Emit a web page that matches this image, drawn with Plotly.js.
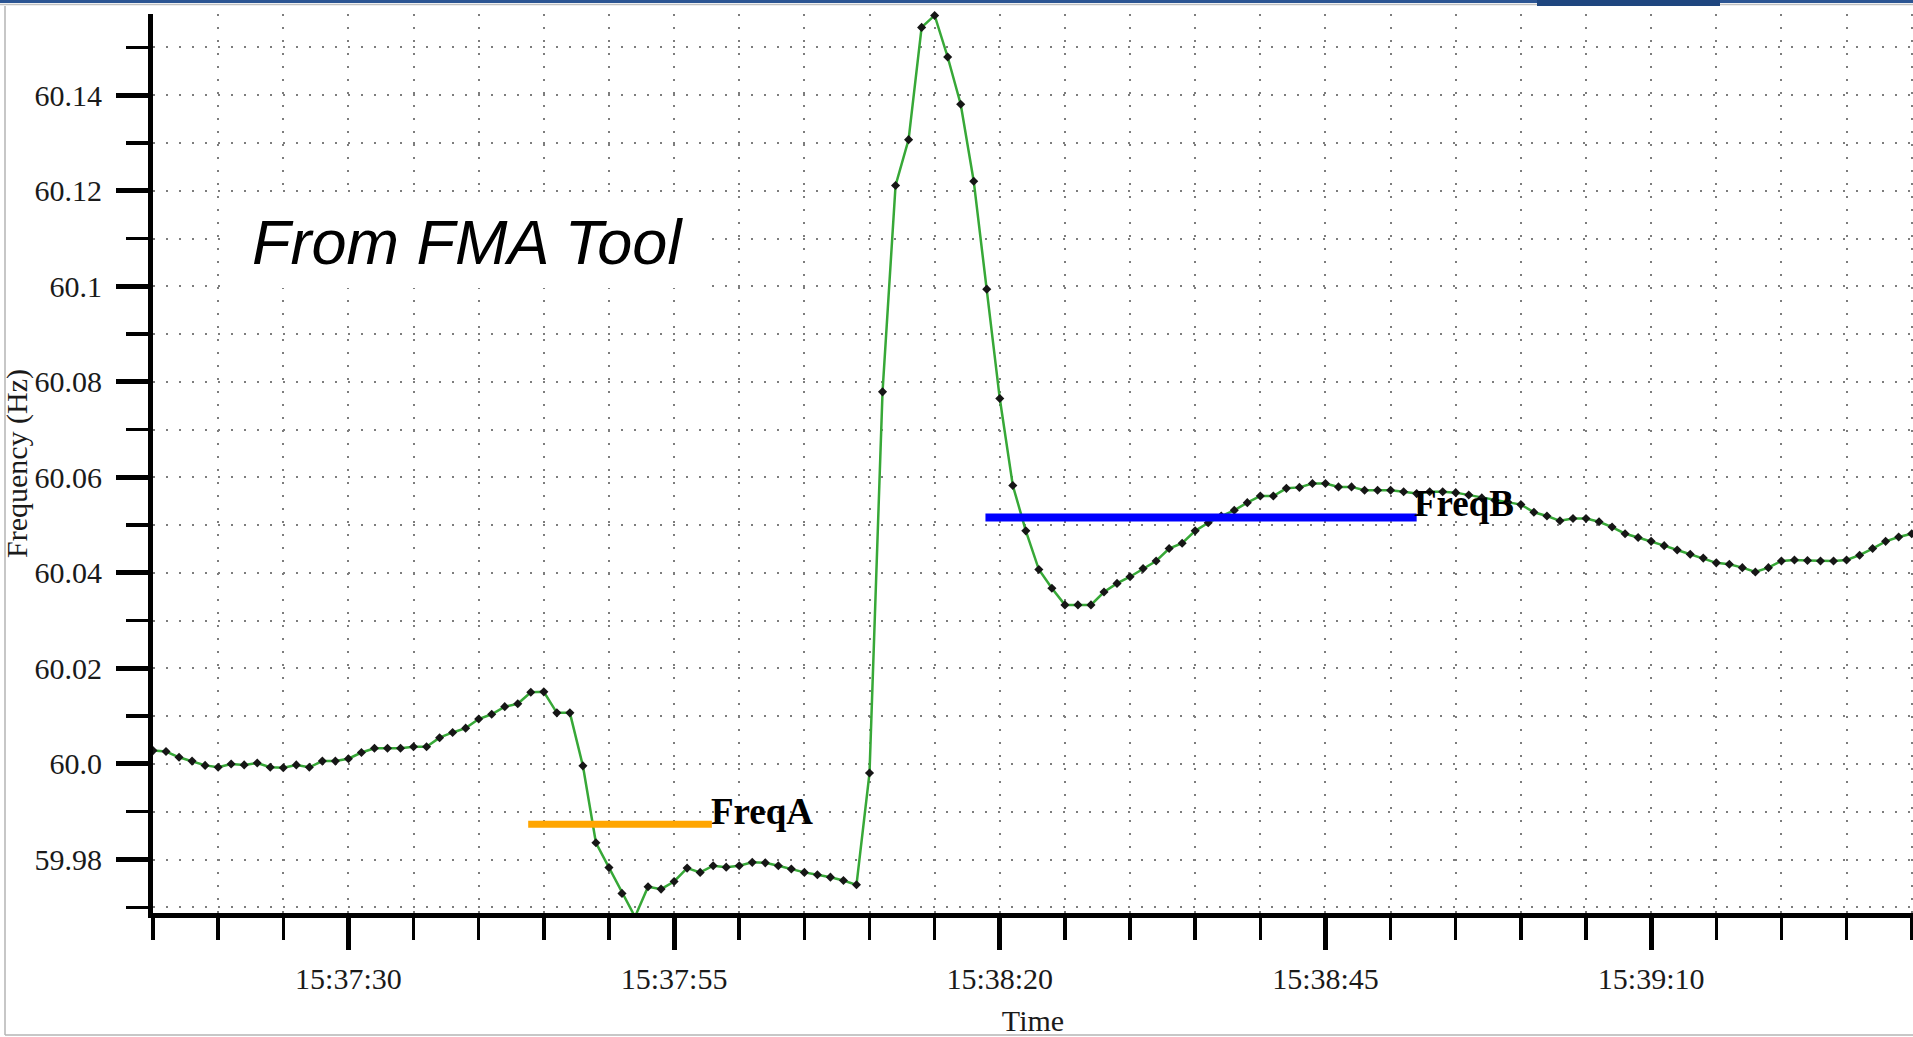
<!DOCTYPE html>
<html>
<head>
<meta charset="utf-8">
<script src="https://cdn.plot.ly/plotly-3.0.1.min.js"></script>
<style>
  html, body { margin: 0; padding: 0; background: #ffffff; overflow: hidden; }
  #chart { width: 1913px; height: 1037px; }
</style>
</head>
<body>
<div id="chart"></div>
<script>
// ---------------- data ----------------
const day = '2016-01-01 ';
const startTime = '15:37:15';      // time of first sample
const sampleSeconds = 1;           // one sample per second
const frequency = [
  60.0028, 60.0026, 60.0014, 60.0006, 59.9997, 59.9993, 60.0000, 59.9998, 60.0002, 59.9993,
  59.9992, 59.9998, 59.9993, 60.0006, 60.0006, 60.0011, 60.0024, 60.0033, 60.0033, 60.0033,
  60.0036, 60.0036, 60.0055, 60.0066, 60.0075, 60.0094, 60.0104, 60.0120, 60.0126, 60.0150,
  60.0151, 60.0107, 60.0107, 59.9996, 59.9835, 59.9783, 59.9729, 59.9680, 59.9743, 59.9738,
  59.9754, 59.9782, 59.9773, 59.9787, 59.9784, 59.9787, 59.9794, 59.9793, 59.9787, 59.9780,
  59.9773, 59.9768, 59.9763, 59.9756, 59.9747, 59.9981, 60.0779, 60.1211, 60.1307, 60.1542,
  60.1567, 60.1480, 60.1381, 60.1220, 60.0994, 60.0765, 60.0583, 60.0488, 60.0407, 60.0368,
  60.0333, 60.0333, 60.0333, 60.0360, 60.0378, 60.0392, 60.0409, 60.0425, 60.0451, 60.0462,
  60.0488, 60.0505, 60.0519, 60.0531, 60.0547, 60.0561, 60.0561, 60.0577, 60.0579, 60.0587,
  60.0587, 60.0580, 60.0580, 60.0573, 60.0573, 60.0573, 60.0570, 60.0566, 60.0570, 60.0570,
  60.0568, 60.0563, 60.0557, 60.0552, 60.0548, 60.0543, 60.0527, 60.0519, 60.0509, 60.0514,
  60.0514, 60.0507, 60.0496, 60.0482, 60.0474, 60.0466, 60.0457, 60.0448, 60.0439, 60.0431,
  60.0421, 60.0418, 60.0411, 60.0402, 60.0411, 60.0425, 60.0427, 60.0426, 60.0425, 60.0425,
  60.0427, 60.0437, 60.0451, 60.0466, 60.0475, 60.0482
];

const freqATimes = ['15:37:43.8', '15:37:57.9'];
const freqAValue = 59.9874;
const freqBTimes = ['15:38:18.9', '15:38:52.0'];
const freqBValue = 60.0516;

const xRangeTimes = ['15:37:15', '15:39:30.1'];
const xMajorTick0 = '15:37:30';
const yRange = [59.9688, 60.157];
const yTickValues = [59.98, 60.00, 60.02, 60.04, 60.06, 60.08, 60.10, 60.12, 60.14];
const yTickLabels = ['59.98', '60.0', '60.02', '60.04', '60.06', '60.08', '60.1', '60.12', '60.14'];

// ---------------- helpers ----------------
function toSec(hms) { const p = hms.split(':').map(Number); return p[0] * 3600 + p[1] * 60 + p[2]; }
function pad2(n) { return (n < 10 ? '0' : '') + n; }
function toDate(sec) {
  const h = Math.floor(sec / 3600);
  const m = Math.floor((sec - h * 3600) / 60);
  const s = sec - h * 3600 - m * 60;
  return day + pad2(h) + ':' + pad2(m) + ':' + (s < 10 ? '0' : '') + s.toFixed(3);
}
const t0 = toSec(startTime);
const times = frequency.map((_, i) => toDate(t0 + i * sampleSeconds));

// plot-area geometry (pixels)
const W = 1913, H = 1037;
const M = { l: 153, r: 0, t: 14, b: 124 };
const PW = W - M.l - M.r, PH = H - M.t - M.b;
const px = x => (x - M.l) / PW;
const py = y => (H - M.b - y) / PH;

const gridColor = '#7d7d7d';
const gridDash = '2px,11px';
const serif = '"Liberation Serif", "Times New Roman", Times, serif';

const traces = [
  {
    x: times, y: frequency, type: 'scatter', mode: 'lines+markers',
    line: { color: '#37a837', width: 2.5 },
    marker: { color: '#161616', size: 7, symbol: 'diamond' },
    cliponaxis: false, hoverinfo: 'x+y'
  },
  {
    x: freqATimes.map(t => toDate(toSec(t))), y: [freqAValue, freqAValue],
    type: 'scatter', mode: 'lines', line: { color: '#ffa500', width: 7 }
  },
  {
    x: freqBTimes.map(t => toDate(toSec(t))), y: [freqBValue, freqBValue],
    type: 'scatter', mode: 'lines', line: { color: '#0000ff', width: 8 }
  }
];

const layout = {
  width: W, height: H,
  margin: { l: M.l, r: M.r, t: M.t, b: M.b, pad: 0 },
  paper_bgcolor: '#ffffff', plot_bgcolor: '#ffffff',
  showlegend: false,
  font: { family: serif, size: 30, color: '#1a1a1a' },
  xaxis: {
    type: 'date',
    range: xRangeTimes.map(t => toDate(toSec(t))),
    tickmode: 'linear', tick0: toDate(toSec(xMajorTick0)), dtick: 25000,
    tickformat: '%H:%M:%S',
    ticks: 'outside', ticklen: 32, tickwidth: 5, tickcolor: '#000',
    ticklabelstandoff: 3,
    showline: true, linecolor: '#000', linewidth: 5,
    showgrid: true, gridcolor: gridColor, gridwidth: 2, griddash: gridDash,
    zeroline: false,
    tickfont: { family: serif, size: 30, color: '#1a1a1a' },
    title: { text: 'Time', font: { family: serif, size: 30, color: '#1a1a1a' }, standoff: 32 },
    minor: {
      tickmode: 'linear', tick0: toDate(toSec(xRangeTimes[0])), dtick: 5000,
      ticks: 'outside', ticklen: 22, tickwidth: 3.5, tickcolor: '#000',
      showgrid: true, gridcolor: gridColor, gridwidth: 2, griddash: gridDash
    },
    fixedrange: true
  },
  yaxis: {
    range: yRange,
    tickmode: 'array', tickvals: yTickValues, ticktext: yTickLabels,
    ticks: 'outside', ticklen: 32, tickwidth: 5, tickcolor: '#000',
    ticklabelstandoff: 8,
    showline: true, linecolor: '#000', linewidth: 5,
    showgrid: true, gridcolor: gridColor, gridwidth: 2, griddash: gridDash,
    zeroline: false,
    tickfont: { family: serif, size: 30, color: '#1a1a1a' },
    title: { text: 'Frequency (Hz)', font: { family: serif, size: 30, color: '#1a1a1a' }, standoff: 0 },
    minor: {
      tickmode: 'linear', tick0: 60, dtick: 0.01,
      ticks: 'outside', ticklen: 22, tickwidth: 3.5, tickcolor: '#000',
      showgrid: true, gridcolor: gridColor, gridwidth: 2, griddash: gridDash
    },
    fixedrange: true
  },
  shapes: [
    // white box behind the "From FMA Tool" note
    { type: 'rect', xref: 'paper', yref: 'paper', layer: 'above',
      x0: px(220), x1: px(703), y0: py(288), y1: py(195),
      fillcolor: '#ffffff', line: { width: 0 } },
    // outer frame
    { type: 'line', xref: 'paper', yref: 'paper', x0: px(5), x1: px(5), y0: py(6), y1: py(1035),
      line: { color: '#b4b4b4', width: 1.5 } },
    { type: 'line', xref: 'paper', yref: 'paper', x0: px(5), x1: px(1913), y0: py(1035), y1: py(1035),
      line: { color: '#b4b4b4', width: 1.5 } },
    // top blue bar
    { type: 'rect', xref: 'paper', yref: 'paper', x0: px(0), x1: px(1913), y0: py(3), y1: py(0),
      fillcolor: '#2c5593', line: { width: 0 } },
    { type: 'line', xref: 'paper', yref: 'paper', x0: px(0), x1: px(1913), y0: py(4.5), y1: py(4.5),
      line: { color: '#c0c0c0', width: 1.5 } },
    { type: 'rect', xref: 'paper', yref: 'paper', x0: px(1537), x1: px(1720), y0: py(6), y1: py(0),
      fillcolor: '#1f467f', line: { width: 0 } }
  ],
  annotations: [
    { xref: 'paper', yref: 'paper', x: px(467.5), y: py(242), xanchor: 'center', yanchor: 'middle',
      text: 'From FMA Tool', showarrow: false,
      font: { family: '"Liberation Sans", Arial, sans-serif', size: 63, color: '#000', style: 'italic' } },
    { xref: 'paper', yref: 'paper', x: px(709), y: py(811), xanchor: 'left', yanchor: 'middle',
      text: '<b>FreqA</b>', showarrow: false,
      font: { family: serif, size: 37, color: '#000' } },
    { xref: 'paper', yref: 'paper', x: px(1412), y: py(503), xanchor: 'left', yanchor: 'middle',
      text: '<b>FreqB</b>', showarrow: false,
      font: { family: serif, size: 37, color: '#000' } }
  ]
};

Plotly.newPlot('chart', traces, layout, { displayModeBar: false, staticPlot: true });
</script>
</body>
</html>
